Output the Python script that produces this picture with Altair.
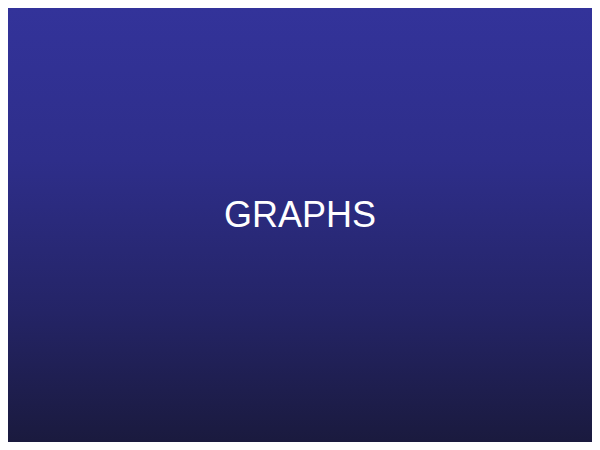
import altair as alt
import pandas as pd

titles = ["GRAPHS"]

W, H = 584, 434

bg = pd.DataFrame({"k": [0]})
txt = pd.DataFrame({"label": titles})

gradient = {
    "gradient": "linear",
    "x1": 0, "y1": 0, "x2": 0, "y2": 1,
    "stops": [
        {"offset": 0, "color": "#33339a"},
        {"offset": 0.35, "color": "#2e2e8a"},
        {"offset": 0.7, "color": "#242466"},
        {"offset": 1, "color": "#1a1a3e"},
    ],
}

back = alt.Chart(bg).mark_rect(fill=gradient, strokeWidth=0).encode(
    x=alt.value(0), x2=alt.value(W), y=alt.value(0), y2=alt.value(H)
)

text = alt.Chart(txt).mark_text(
    font="Liberation Sans", fontSize=36, color="white", align="center", baseline="alphabetic"
).encode(
    text="label:N", x=alt.value(W / 2), y=alt.value(219)
)

chart = (back + text).properties(
    width=W, height=H, padding=0,
    autosize=alt.AutoSizeParams(type="fit", contains="padding"),
).configure_view(stroke=None, strokeWidth=0).configure(background="#1a1a3e")

chart.save("out.html", embed_options={"renderer": "svg", "actions": False})
